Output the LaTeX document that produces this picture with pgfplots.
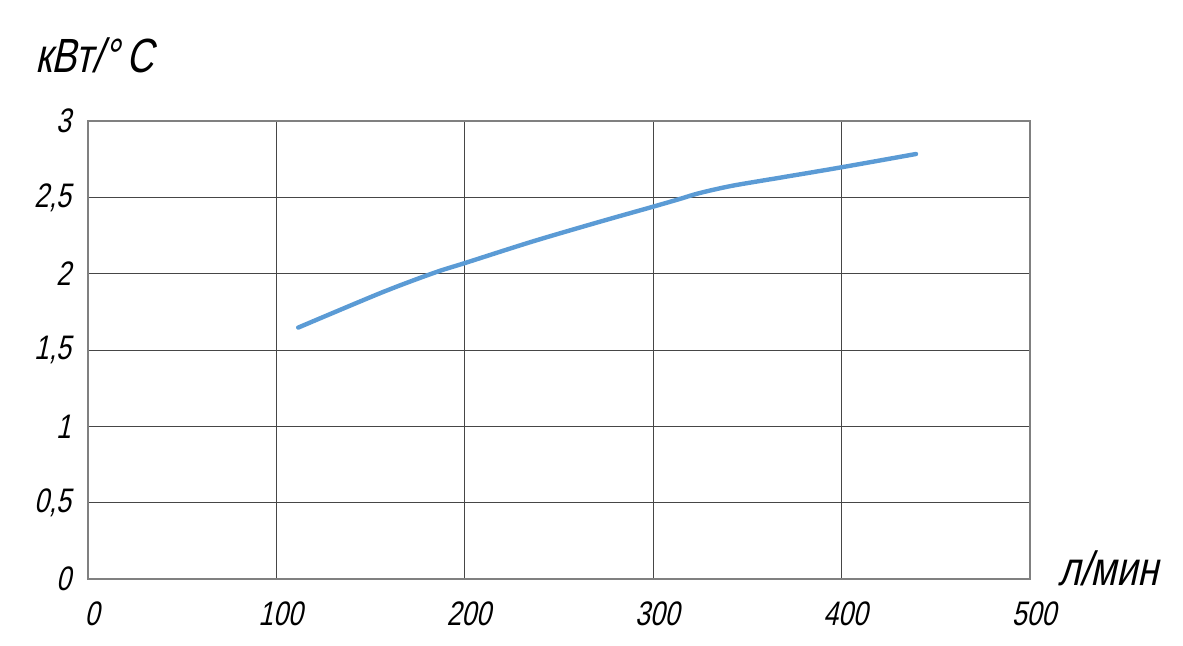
\documentclass[border=0pt]{standalone}
\usepackage{fontspec}
\usepackage{pgfplots}
\pgfplotsset{compat=1.18}
\newfontfamily\gost{Liberation Sans}[FakeSlant=0.22, FakeStretch=0.78]
\definecolor{curve}{RGB}{91,155,213}
\definecolor{gridc}{RGB}{70,70,70}
\definecolor{framec}{RGB}{128,128,128}
\begin{document}
\begin{tikzpicture}
\path[use as bounding box] (0pt,0pt) rectangle (591.5pt,322.5pt);
\begin{axis}[
  at={(44pt,33pt)}, anchor=south west,
  scale only axis, width=471pt, height=229pt,
  xmin=0, xmax=500, ymin=0, ymax=3,
  xtick={0,100,...,500}, ytick={0,0.5,...,3},
  grid=major,
  major grid style={gridc, line width=0.5pt},
  axis line style={framec, line width=0.6pt},
  tick style={draw=none},
  /pgf/number format/assume math mode=true,
  /pgf/number format/use comma,
  /pgf/number format/fixed,
  ticklabel style={font=\gost\fontsize{17}{17}\selectfont, text=black},
  xticklabel style={yshift=-8pt, xshift=2pt},
  yticklabel style={xshift=-5pt},
]
\addplot[curve, line width=2.2pt, smooth, line cap=round] coordinates {
(111.6,1.647) (156,1.877) (183.8,2.006) (200.4,2.071) (236,2.211)
(271.9,2.341) (300,2.439) (314,2.489) (324.6,2.528) (342,2.576)
(368.4,2.631) (400,2.697) (439.5,2.784)
};
\end{axis}
\node[anchor=west, inner sep=0pt, font=\gost\fontsize{24}{24}\selectfont] at (17.5pt,295pt) {кВт/°\,C};
\node[anchor=west, inner sep=0pt, font=\gost\fontsize{24}{24}\selectfont] at (529pt,38.5pt) {л/мин};
\end{tikzpicture}
\end{document}
